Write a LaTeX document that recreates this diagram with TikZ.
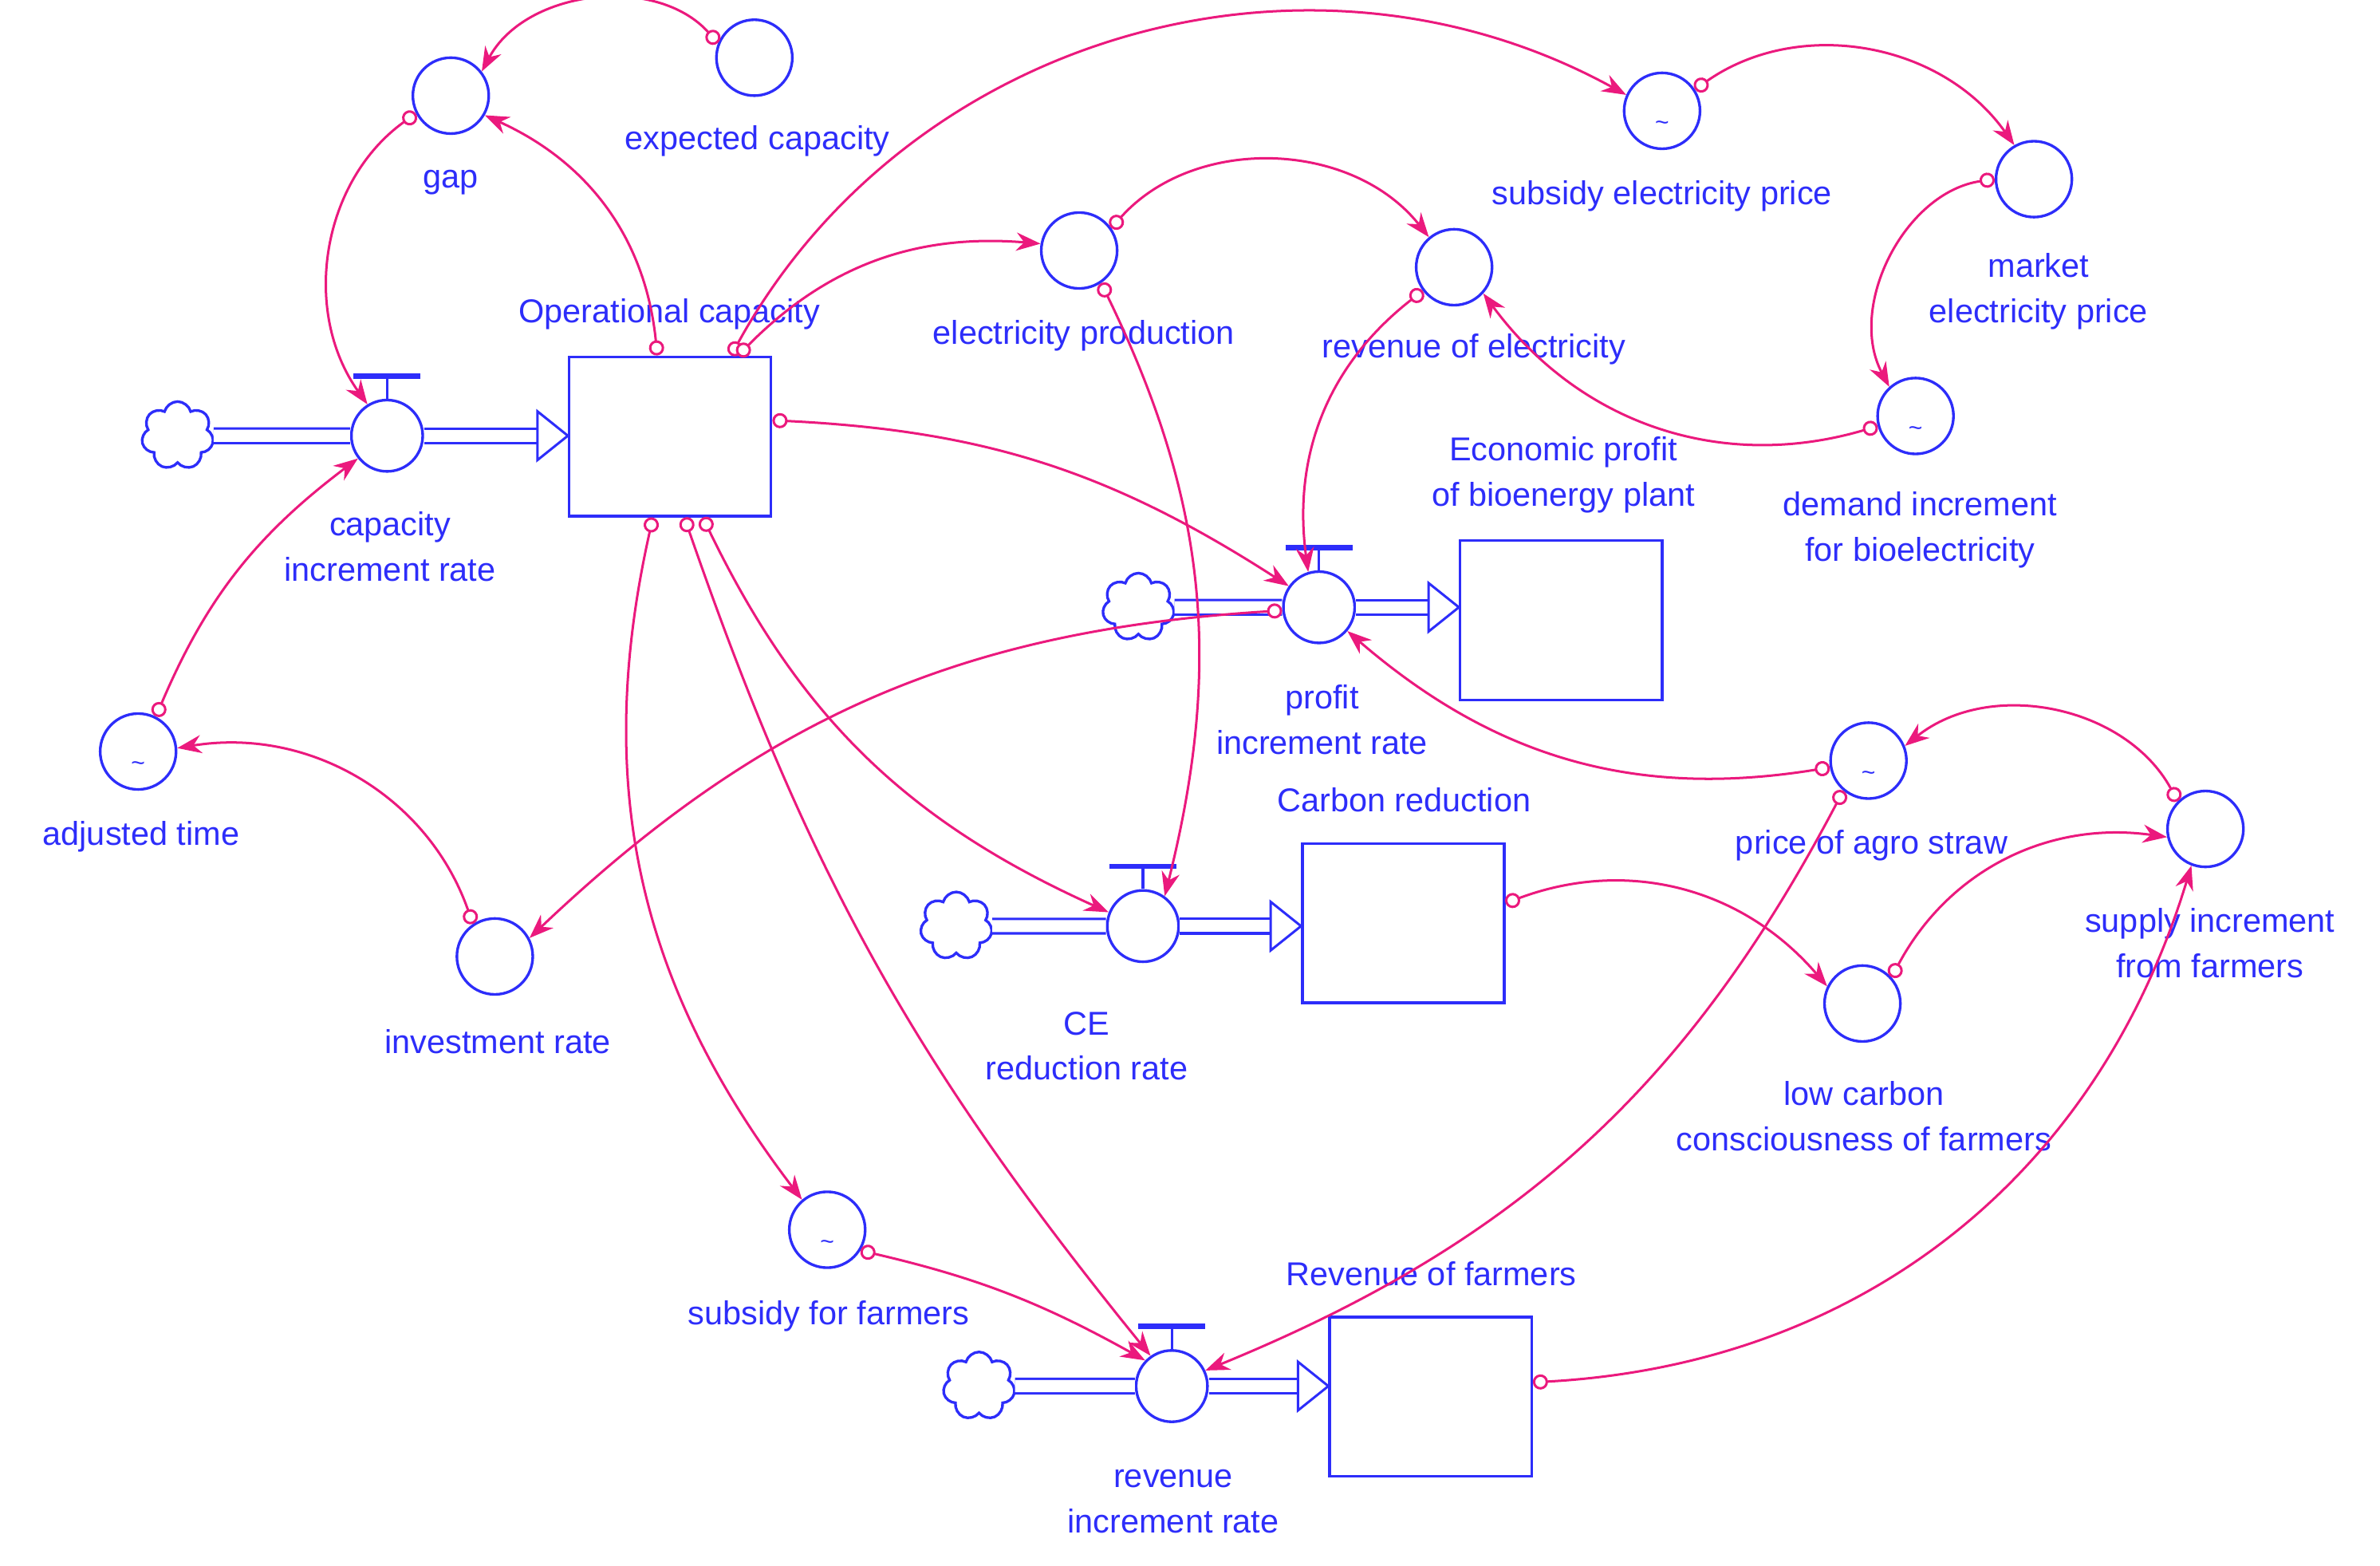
\documentclass[tikz,border=0pt]{standalone}
\usepackage{fontspec}
\setmainfont{Liberation Sans}
\usetikzlibrary{arrows.meta,shapes.symbols,calc}
\definecolor{vblue}{RGB}{45,45,250}
\definecolor{mag}{RGB}{235,25,125}
\begin{document}
\begin{tikzpicture}[x=0.02cm,y=0.02cm,
 aux/.style={circle,draw=vblue,line width=1pt,minimum size=1cm,inner sep=0pt},
 valve/.style={circle,draw=vblue,line width=1pt,minimum size=0.94cm,inner sep=0pt,fill=white},
 stock/.style={draw=vblue,line width=1pt,minimum width=2.66cm,minimum height=2.1cm,inner sep=0pt},
 cl/.style={cloud,cloud puffs=7,draw=vblue,line width=1pt,minimum width=0.95cm,minimum height=0.9cm,inner sep=0pt,fill=white},
 lbl/.style={text=vblue,font=\fontsize{12.4}{17}\selectfont,align=center,inner sep=1pt},
 tl/.style={text=vblue,font=\small,inner sep=0pt},
 pipe/.style={draw=vblue,double=white,double distance=0.16cm,line width=0.9pt},
 tri/.style={draw=vblue,line width=0.9pt,fill=white},
 link/.style={draw=mag,line width=0.9pt,{Circle[open,length=0.2cm,width=0.2cm,fill=white]}-{Stealth[length=0.32cm,width=0.24cm]}}]
\useasboundingbox (0,0) rectangle (1568,-1031);
% auxiliaries
\node[aux] (gap) at (297,-63) {};
\node[lbl] (lgap) at (297,-120) {gap};
\node[aux] (exp) at (497,-38) {};
\node[lbl] (lexp) at (499,-93) {expected capacity};
\node[aux] (sep) at (1095,-73) {}; \node[tl] (tsep) at (1095,-83) {\~{}};
\node[lbl] (lsep) at (1095,-129) {subsidy electricity price};
\node[aux] (mkt) at (1340,-118) {};
\node[lbl] (lmkt) at (1343,-192) {market\\electricity price};
\node[aux] (ep) at (711,-165) {};
\node[lbl] (lep) at (714,-221) {electricity production};
\node[aux] (re) at (958,-176) {};
\node[lbl] (lre) at (971,-230) {revenue of electricity};
\node[aux] (dem) at (1262,-274) {}; \node[tl] (tdem) at (1262,-284) {\~{}};
\node[lbl] (ldem) at (1265,-349) {demand increment\\for bioelectricity};
\node[aux] (adj) at (91,-495) {}; \node[tl] (tadj) at (91,-505) {\~{}};
\node[lbl] (ladj) at (93,-551) {adjusted time};
\node[aux] (inv) at (326,-630) {};
\node[lbl] (linv) at (328,-686) {investment rate};
\node[aux] (straw) at (1231,-501) {}; \node[tl] (tstraw) at (1231,-511) {\~{}};
\node[lbl] (lstraw) at (1233,-557) {price of agro straw};
\node[aux] (sup) at (1453,-546) {};
\node[lbl] (lsup) at (1456,-621) {supply increment\\from farmers};
\node[aux] (lc) at (1227,-661) {};
\node[lbl] (llc) at (1228,-735) {low carbon\\consciousness of farmers};
\node[aux] (sf) at (545,-810) {}; \node[tl] (tsf) at (545,-820) {\~{}};
\node[lbl] (lsf) at (546,-867) {subsidy for farmers};
% stocks
\node[stock] (oc) at (441.5,-287.5) {};
\node[lbl] (loc) at (441,-207) {Operational capacity};
\node[stock] (epb) at (1028.5,-408.5) {};
\node[lbl] (lepb) at (1030,-313) {Economic profit\\of bioenergy plant};
\node[stock] (cr) at (924.5,-608) {};
\node[lbl] (lcr) at (925,-527) {Carbon reduction};
\node[stock] (rf) at (942.5,-920) {};
\node[lbl] (lrf) at (943,-839) {Revenue of farmers};
% flows
\foreach \v/\c/\s/\vx/\vy/\cx in {cv/cc/oc/255/-287/117, pv/pc/epb/869/-400/750, ce/ec/cr/753/-610/630, rv/rc/rf/772/-913/645}{
  \node[cl] (\c) at (\cx,\vy) {};
  \node[valve] (\v) at (\vx,\vy) {};
  \draw[pipe] (\c.east) -- (\v.west);
  \draw[pipe] (\v.east) -- ($(\s.west |- \v)+(-0.38cm,0)$);
  \draw[tri] ($(\s.west |- \v)+(-0.4cm,0.32cm)$) -- (\s.west |- \v) -- ($(\s.west |- \v)+(-0.4cm,-0.32cm)$) -- cycle;
  \draw[vblue,line width=1pt] (\v.north) -- ++(0,14);
  \draw[vblue,line width=2pt] ($(\v.north)+(-22,15)$) -- ++(44,0);
}
\node[lbl] (lcv) at (257,-360) {capacity\\increment rate};
\node[lbl] (lpv) at (871,-474) {profit\\increment rate};
\node[lbl] (lce) at (716,-689) {CE\\reduction rate};
\node[lbl] (lrv) at (773,-989) {revenue\\increment rate};
% links
\draw[link] (exp.158) to[bend right=55] (gap.38);
\draw[link] (gap.207) to[bend right=45] (cv.122);
\draw[link] (oc.99) to[bend right=30] (gap.-30);
\draw[link] (oc.53) to[bend left=45] (sep.156);
\draw[link] (oc.50) to[bend left=25] (ep.170);
\draw[link] (ep.35) to[bend left=50] (re.130);
\draw[link] (ep.-56) to[bend left=20] (ce.54);
\draw[link] (sep.33) to[bend left=45] (mkt.120);
\draw[link] (mkt.180) to[bend right=55] (dem.132);
\draw[link] (dem.195) to[bend left=35] (re.-42);
\draw[link] (re.217) to[bend right=30] (pv.107);
\draw[link] (oc.9) to[bend left=15] (pv.145);
\draw[link] (pv.185) to[bend right=20] (inv.28);
\draw[link] (inv.124) to[bend right=40] (adj.5);
\draw[link] (adj.63) to[bend left=15] (cv.218);
\draw[link] (straw.190) to[bend left=25] (pv.-40);
\draw[link] (sup.135) to[bend right=50] (straw.22);
\draw[link] (straw.230) to[bend left=20] (rv.25);
\draw[link] (cr.11) to[bend left=35] (lc.154);
\draw[link] (lc.42) to[bend left=35] (sup.192);
\draw[link] (rf.8) to[bend right=35] (sup.249);
\draw[link] (oc.-102) to[bend right=25] (sf.130);
\draw[link] (sf.-32) to[bend left=8] (rv.136);
\draw[link] (oc.-80) to[bend right=10] (rv.125);
\draw[link] (oc.-68) to[bend right=20] (ce.158);
\end{tikzpicture}
\end{document}
